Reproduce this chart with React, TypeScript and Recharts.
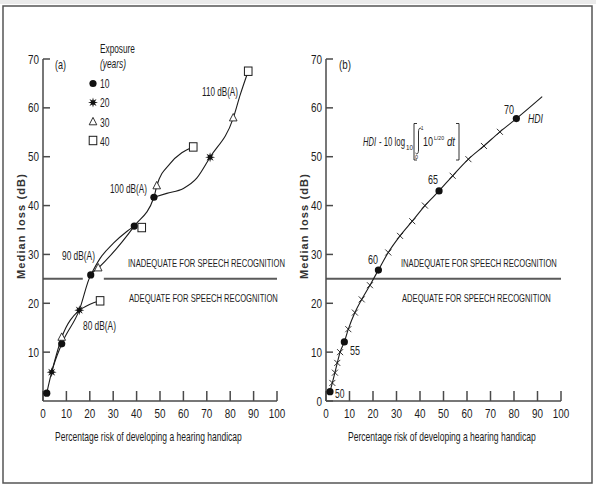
import React from 'react';
import { ComposedChart, Line, Scatter, XAxis, YAxis, ReferenceLine } from 'recharts';

// ---- panel (a): median loss vs risk, by exposure years ----
// markers (x = % risk of handicap, y = median loss dB)
const exp10 = [
  { x: 1.6, y: 1.6 }, { x: 8, y: 11.7 }, { x: 20.4, y: 25.8 }, { x: 39, y: 35.8 }, { x: 47.4, y: 41.7 },
];
const exp20 = [{ x: 3.7, y: 5.9 }, { x: 15.5, y: 18.6 }, { x: 71.4, y: 49.9 }];
const exp30 = [{ x: 8, y: 13 }, { x: 23.6, y: 27.2 }, { x: 48.6, y: 44 }, { x: 81.3, y: 57.9 }];
const exp40 = [{ x: 24.4, y: 20.5 }, { x: 42.2, y: 35.5 }, { x: 64.2, y: 52 }, { x: 87.7, y: 67.5 }];

// connecting curves
const mainCurve = [
  { x: 1.6, y: 1.6 }, { x: 3.7, y: 5.9 }, { x: 8, y: 11.7 }, { x: 15.5, y: 18.6 }, { x: 20.4, y: 25.8 },
  { x: 23.6, y: 27.2 }, { x: 39, y: 35.8 }, { x: 47.4, y: 41.7 }, { x: 48.6, y: 44 }, { x: 54.3, y: 48.6 },
  { x: 59.3, y: 50.8 }, { x: 64.2, y: 52 },
];
const lens80 = [{ x: 3.7, y: 5.9 }, { x: 8, y: 13 }, { x: 15.5, y: 18.6 }];
const branch80 = [{ x: 15.5, y: 18.6 }, { x: 20.1, y: 19.8 }, { x: 24.4, y: 20.5 }];
const arc90 = [{ x: 20.4, y: 25.8 }, { x: 24.4, y: 29.2 }, { x: 30.1, y: 32.3 }, { x: 35.8, y: 34.7 }, { x: 39, y: 35.8 }];
const curve110 = [
  { x: 47.4, y: 41.7 }, { x: 52.9, y: 42.5 }, { x: 60, y: 43.5 }, { x: 65.7, y: 45.6 }, { x: 71.4, y: 49.9 },
  { x: 81.3, y: 57.9 }, { x: 84.3, y: 62.7 }, { x: 87.7, y: 67.5 },
];

// ---- panel (b): HDI curve ----
const hdiLevels = [50, 51, 52, 53, 54, 55, 56, 57, 58, 59, 60, 61, 62, 63, 64, 65, 66, 67, 68, 69, 70];
const hdiRisk = [1.7, 2.7, 3.8, 4.8, 6.0, 7.8, 9.5, 12.3, 15.2, 18.7, 22.3, 26.5, 31.5, 36.7, 42.1, 48.1, 53.9, 60.6, 67.2, 74, 81];
const hdiLoss = [1.9, 3.7, 5.8, 7.8, 10.0, 12.1, 14.7, 18.1, 20.8, 23.7, 26.8, 30.4, 33.8, 36.8, 40, 43, 46.1, 49.5, 52.2, 55.1, 57.8];
const hdiTail = { x: 92, y: 62.3 };

const speechLimit = 25;
const gapA = [17, 26];

const xTicks = [0, 10, 20, 30, 40, 50, 60, 70, 80, 90, 100];
const yTicksA = [10, 20, 30, 40, 50, 60, 70];
const yTicksB = [0, 10, 20, 30, 40, 50, 60, 70];

const hdiPoints = hdiLevels.map((h, i) => ({ hdi: h, x: hdiRisk[i], y: hdiLoss[i] }));
const hdiCurve = [...hdiPoints, hdiTail];
const hdiDots = hdiPoints.filter((p) => p.hdi % 5 === 0);
const hdiCross = hdiPoints.filter((p) => p.hdi % 5 !== 0);

const FAMILY = 'Liberation Sans';
const FONT = `'${FAMILY}', Arial, sans-serif`;
const INK = '#1c1c1c';
const AXIS = '#4a4a4a';

// canvas metrics, so condensed text can be drawn at its natural width and stretched upward
let ctx: CanvasRenderingContext2D | null = null;
function measure(s: string, size: number, italic = false, bold = false) {
  if (!ctx) ctx = document.createElement('canvas').getContext('2d');
  if (!ctx) return s.length * size * 0.55;
  ctx.font = `${italic ? 'italic ' : ''}${bold ? 'bold ' : ''}${size}px '${FAMILY}'`;
  return ctx.measureText(s).width;
}

// condensed text: baseline at (x, y), width w, visual size `size`
function CT({ x, y, w, size = 12, italic = false, anchor = 'start', children }: any) {
  const s = String(children);
  const f = (size * w) / measure(s, size, italic);
  return (
    <text transform={`translate(${x},${y}) scale(1,${(size / f).toFixed(3)})`} fontSize={f} fontFamily={FONT}
      fontStyle={italic ? 'italic' : 'normal'} textAnchor={anchor} fill={INK}>{s}</text>
  );
}

const DotMark = ({ cx, cy }: any) => <circle cx={cx} cy={cy} r={3.6} fill="#111" />;
const StarMark = ({ cx, cy }: any) => {
  const pts: string[] = [];
  for (let i = 0; i < 16; i++) {
    const r = i % 2 === 0 ? 5 : 2.1;
    const a = (Math.PI * i) / 8 - Math.PI / 2;
    pts.push(`${cx + r * Math.cos(a)},${cy + r * Math.sin(a)}`);
  }
  return <polygon points={pts.join(' ')} fill="#111" />;
};
const TriMark = ({ cx, cy }: any) => (
  <polygon points={`${cx},${cy - 4.6} ${cx + 3.8},${cy + 2.8} ${cx - 3.8},${cy + 2.8}`} fill="#fff" stroke={INK} strokeWidth={0.9} />
);
const SqMark = ({ cx, cy }: any) => (
  <rect x={cx - 3.8} y={cy - 4.2} width={7.6} height={8.4} fill="#fff" stroke={INK} strokeWidth={1} />
);
const CrossMark = ({ cx, cy }: any) => (
  <path d={`M${cx - 3},${cy - 3}L${cx + 3},${cy + 3}M${cx - 3},${cy + 3}L${cx + 3},${cy - 3}`} stroke={INK} strokeWidth={0.9} />
);

const XTick = ({ x, y, payload }: any) => {
  const s = String(payload.value);
  return <CT x={x} y={y + 9.3} w={s.length * 5.5} size={13} anchor="middle">{s}</CT>;
};
const YTick = ({ x, y, payload }: any) => {
  const s = String(payload.value);
  return <CT x={x} y={y + 4.6} w={s.length * 5.5} size={13} anchor="end">{s}</CT>;
};

function Axes({ yTicks }: { yTicks: number[] }) {
  return [
    <XAxis key="x" type="number" dataKey="x" domain={[0, 100]} ticks={xTicks} interval={0} height={30}
      stroke={AXIS} strokeWidth={1.5} tickSize={-10} tickMargin={18} tick={<XTick />} />,
    <YAxis key="y" type="number" domain={[0, 70]} ticks={yTicks} interval={0} width={30}
      stroke={AXIS} strokeWidth={1.5} tickSize={-7} tickMargin={11} tick={<YTick />} />,
  ];
}

const line = (data: any[], key: string) => (
  <Line key={key} data={data} dataKey="y" type="monotone" dot={false} stroke={INK} strokeWidth={1.1} isAnimationActive={false} />
);

const YTitle = ({ x }: { x: number }) => {
  const s = 'Median loss (dB)';
  const spacing = (106 - measure(s, 11, false, true)) / s.length;
  return (
    <text transform={`translate(${x},226) rotate(-90)`} textAnchor="middle" fontSize={11} fontWeight="bold"
      fontFamily={FONT} fill="#333" letterSpacing={spacing.toFixed(2)}>{s}</text>
  );
};

export default function App() {
  return (
    <div style={{ position: 'absolute', left: 0, top: 0, width: 596, height: 490, background: '#fff' }}>
      <div style={{ position: 'absolute', left: 0, top: 0 }}>
        <ComposedChart width={296} height={490} margin={{ top: 59, right: 19, bottom: 59, left: 13 }}>
          {Axes({ yTicks: yTicksA })}
          <ReferenceLine segment={[{ x: 0, y: speechLimit }, { x: gapA[0], y: speechLimit }]} stroke="#5a5a5a" strokeWidth={2} />
          <ReferenceLine segment={[{ x: gapA[1], y: speechLimit }, { x: 100, y: speechLimit }]} stroke="#5a5a5a" strokeWidth={2} />
          {line(mainCurve, 'main')}
          {line(lens80, 'lens80')}
          {line(branch80, 'b80')}
          {line(arc90, 'arc90')}
          {line(curve110, 'c110')}
          <Scatter data={exp10} dataKey="y" shape={DotMark} isAnimationActive={false} />
          <Scatter data={exp20} dataKey="y" shape={StarMark} isAnimationActive={false} />
          <Scatter data={exp30} dataKey="y" shape={TriMark} isAnimationActive={false} />
          <Scatter data={exp40} dataKey="y" shape={SqMark} isAnimationActive={false} />
        </ComposedChart>
      </div>
      <div style={{ position: 'absolute', left: 290, top: 0 }}>
        <ComposedChart width={306} height={490} margin={{ top: 59, right: 35, bottom: 59, left: 6 }}>
          {Axes({ yTicks: yTicksB })}
          <ReferenceLine y={speechLimit} stroke="#5a5a5a" strokeWidth={2} />
          {line(hdiCurve, 'hdi')}
          <Scatter data={hdiCross} dataKey="y" shape={CrossMark} isAnimationActive={false} />
          <Scatter data={hdiDots} dataKey="y" shape={DotMark} isAnimationActive={false} />
        </ComposedChart>
      </div>
      <svg width={596} height={490} style={{ position: 'absolute', left: 0, top: 0, pointerEvents: 'none' }}>
        <rect x={0} y={0} width={596} height={4} fill="#ebebeb" />
        <rect x={3} y={6} width={589} height={477} fill="none" stroke="#555" strokeWidth={1.5} />

        {/* panel (a) */}
        <CT x={55} y={69} w={11}>(a)</CT>
        <CT x={100} y={53} w={35}>Exposure</CT>
        <CT x={100} y={68} w={26} italic>(years)</CT>
        <DotMark cx={93} cy={83.5} />
        <StarMark cx={93} cy={102.5} />
        <TriMark cx={93} cy={122} />
        <SqMark cx={93} cy={140.5} />
        <CT x={100} y={88} w={9.5}>10</CT>
        <CT x={100} y={107} w={9.5}>20</CT>
        <CT x={100} y={127} w={9.5}>30</CT>
        <CT x={100} y={146} w={9.5}>40</CT>
        <CT x={202} y={96} w={36}>110 dB(A)</CT>
        <CT x={110} y={193} w={37}>100 dB(A)</CT>
        <CT x={62} y={260} w={33}>90 dB(A)</CT>
        <CT x={83} y={330} w={33}>80 dB(A)</CT>
        <CT x={128} y={267} w={157} size={11}>INADEQUATE FOR SPEECH RECOGNITION</CT>
        <CT x={129} y={302} w={149} size={11}>ADEQUATE FOR SPEECH RECOGNITION</CT>
        <CT x={55} y={441} w={187}>Percentage risk of developing a hearing handicap</CT>
        <YTitle x={25} />

        {/* panel (b) */}
        <CT x={339} y={69} w={12}>(b)</CT>
        <CT x={401} y={267} w={156} size={11}>INADEQUATE FOR SPEECH RECOGNITION</CT>
        <CT x={402} y={302} w={149} size={11}>ADEQUATE FOR SPEECH RECOGNITION</CT>
        <CT x={348} y={441} w={188}>Percentage risk of developing a hearing handicap</CT>
        <YTitle x={308} />
        <CT x={335} y={398} w={9.5}>50</CT>
        <CT x={350} y={355} w={10}>55</CT>
        <CT x={368} y={264} w={10}>60</CT>
        <CT x={428} y={184} w={10}>65</CT>
        <CT x={504} y={114} w={10}>70</CT>
        <CT x={528} y={123} w={15} italic>HDI</CT>

        {/* HDI formula */}
        <CT x={363} y={146} w={13} italic>HDI</CT>
        <CT x={379} y={146} w={26}>- 10 log</CT>
        <CT x={406} y={150} w={7} size={7}>10</CT>
        <CT x={421} y={130} w={2.5} size={6}>1</CT>
        <CT x={415} y={159} w={3} size={6}>0</CT>
        <CT x={423} y={146} w={10}>10</CT>
        <CT x={434} y={140} w={10} size={6}>L/20</CT>
        <CT x={447} y={146} w={8} italic>dt</CT>
        <path d="M417,123.5 H414 V160 H417" fill="none" stroke={INK} strokeWidth={0.9} />
        <path d="M421.5,129 C420,127 418.5,128.5 418.5,132 L418.5,150 C418.5,153.5 417,155 415.5,153" fill="none" stroke={INK} strokeWidth={0.9} />
        <path d="M456,123.5 H459 V160 H456" fill="none" stroke={INK} strokeWidth={0.9} />
      </svg>
    </div>
  );
}
